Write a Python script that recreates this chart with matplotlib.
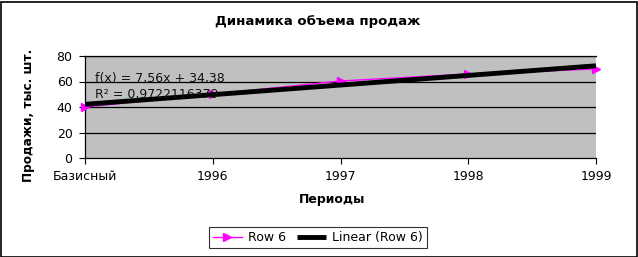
import matplotlib
matplotlib.use('Agg')
import matplotlib.pyplot as plt
import numpy as np
from matplotlib.patches import Rectangle

# data
periods = ['Базисный', '1996', '1997', '1998', '1999']
sales = [40.0, 50.0, 60.4, 65.9, 69.8]
fit_text = ['f(x) = 7,56x + 34,38', 'R² = 0,9722116379']
yticks = [0, 20, 40, 60, 80]

plt.rcParams['font.family'] = 'DejaVu Sans'
plt.rcParams['font.size'] = 9

W, H = 638, 257
fig = plt.figure(figsize=(W/100, H/100), dpi=100)
fig.patch.set_facecolor('white')
fig.add_artist(Rectangle((0.5/W, 0.5/H), 1 - 2/W, 1 - 2/H, transform=fig.transFigure,
                         fill=False, ec='black', lw=1.2))

ax = fig.add_axes([85/W, 1 - 158/H, (596 - 85)/W, (158 - 56)/H])
ax.set_facecolor('#c0c0c0')
x = np.arange(len(periods))
ax.set_xlim(0, len(periods) - 1)
ax.set_ylim(0, 80)

for v in yticks[1:]:
    ax.axhline(v, color='black', lw=0.9, zorder=1)

ax.plot(x, sales, color='#ff00ff', lw=1.0, marker='>', ms=6, mec='#ff00ff',
        mfc='#ff00ff', zorder=3, clip_on=False, label='Row 6')
k, b = np.polyfit(x + 1, sales, 1)
ax.plot(x, k*(x + 1) + b, color='black', lw=3.5, zorder=4, solid_capstyle='butt',
        label='Linear (Row 6)')

ax.text(10/511, 0.78, fit_text[0], transform=ax.transAxes, fontsize=9, color='#111111',
        va='center', zorder=5)
ax.text(10/511, 0.62, fit_text[1], transform=ax.transAxes, fontsize=9, color='#111111',
        va='center', zorder=5)

ax.set_xticks(x)
ax.set_xticklabels(periods)
ax.set_yticks(yticks)
ax.tick_params(direction='out', length=4, width=0.8, color='black', pad=5)
for sp in ['left', 'bottom', 'top']:
    ax.spines[sp].set_color('black')
    ax.spines[sp].set_linewidth(0.9)
ax.spines['right'].set_visible(False)

fig.text(318/W, 1 - 21/H, 'Динамика объема продаж', ha='center', va='center',
         fontsize=9.5, fontweight='bold')
fig.text(332/W, 1 - 199/H, 'Периоды', ha='center', va='center', fontsize=9,
         fontweight='bold')
fig.text(29/W, 1 - 115/H, 'Продажи, тыс. шт.', ha='center', va='center', fontsize=8.7,
         fontweight='bold', rotation=90)

leg = fig.legend(loc='center', bbox_to_anchor=(318/W, 1 - 237.5/H), ncol=2,
                 frameon=True, fancybox=False, edgecolor='black', fontsize=9,
                 handlelength=2.3, handletextpad=0.5, columnspacing=0.9,
                 borderpad=0.35, borderaxespad=0)
leg.get_frame().set_linewidth(0.8)

fig.savefig('out.png', dpi=100)
